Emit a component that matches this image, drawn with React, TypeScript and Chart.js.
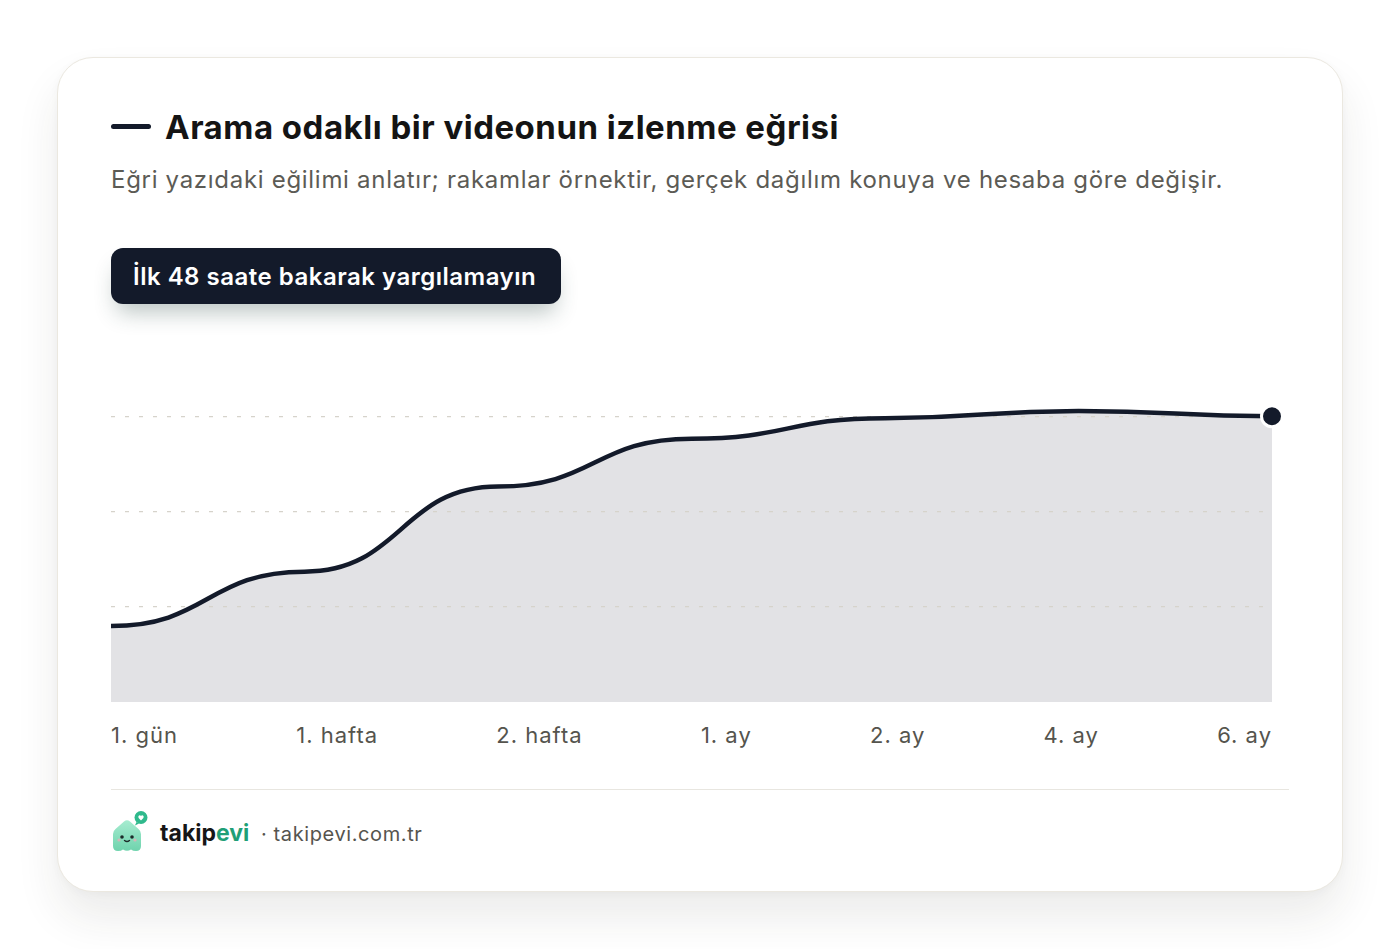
import React, { useEffect, useRef } from 'react';
import { Chart, registerables } from 'chart.js';

Chart.register(...registerables);

// ---- data ----
const categories = ['1. gün', '1. hafta', '2. hafta', '1. ay', '2. ay', '4. ay', '6. ay'];
const viewCurve = [20, 34.3, 56.7, 69.3, 74.7, 76.6, 75.2];
const gridValues = [25, 50, 75];
const yMin = 0;
const yMax = 100;

const titleText = 'Arama odaklı bir videonun izlenme eğrisi';
const subtitleText = 'Eğri yazıdaki eğilimi anlatır; rakamlar örnektir, gerçek dağılım konuya ve hesaba göre değişir.';
const badgeText = 'İlk 48 saate bakarak yargılamayın';

const NAVY = '#131a2a';
const FONT = 'Inter, "Noto Sans", sans-serif';

// Bezier with horizontal tangents at every point (bump curve)
function applyBump(chart: any) {
  chart.getSortedVisibleDatasetMetas().forEach((meta: any) => {
    const line = meta.dataset;
    if (!line || !line.updateControlPoints) return;
    line.updateControlPoints(chart.chartArea, meta.iScale ? meta.iScale.axis : 'x');
    const pts = meta.data;
    for (let i = 0; i < pts.length; i++) {
      const p = pts[i];
      const prev = pts[i - 1];
      const next = pts[i + 1];
      p.cp1x = prev ? (prev.x + p.x) / 2 : p.x;
      p.cp1y = p.y;
      p.cp2x = next ? (p.x + next.x) / 2 : p.x;
      p.cp2y = p.y;
    }
    line._path = undefined;
  });
}

const bumpPlugin = {
  id: 'bumpCurve',
  afterUpdate(chart: any) {
    applyBump(chart);
  },
};

function Logo() {
  return (
    <svg width="40" height="44" viewBox="0 0 40 44">
      <defs>
        <linearGradient id="lg" x1="0" y1="0" x2="0" y2="1">
          <stop offset="0" stopColor="#a6ecd0" />
          <stop offset="1" stopColor="#6fd3ad" />
        </linearGradient>
      </defs>
      <path
        d="M4 24 Q4 21 6.5 19 L15 11.5 Q18 9 21 11.5 L29.5 19 Q32 21 32 24 L32 36 Q32 41 27 41 Q24 41 22 39.5 Q18 42 14 39.5 Q12 41 9 41 Q4 41 4 36 Z"
        fill="url(#lg)"
      />
      <circle cx="13" cy="27" r="1.8" fill="#1d2b2a" />
      <circle cx="23" cy="27" r="1.8" fill="#1d2b2a" />
      <path d="M15.5 30.5 Q18 32.5 20.5 30.5" stroke="#1d2b2a" strokeWidth="1.4" fill="none" strokeLinecap="round" />
      <circle cx="10" cy="30" r="1.6" fill="#f3a6b8" opacity="0.7" />
      <circle cx="26" cy="30" r="1.6" fill="#f3a6b8" opacity="0.7" />
      <circle cx="32" cy="7.5" r="6.5" fill="#2fb98c" />
      <path d="M27.5 12 L26 15.5 L30 13.5 Z" fill="#2fb98c" />
      <path d="M32 10.5 L29.6 8 Q28.8 6.6 30 5.6 Q31.2 4.9 32 6 Q32.8 4.9 34 5.6 Q35.2 6.6 34.4 8 Z" fill="#ffffff" />
    </svg>
  );
}

export default function App() {
  const canvasRef = useRef<HTMLCanvasElement | null>(null);

  useEffect(() => {
    if (!canvasRef.current) return;
    const lastIndex = viewCurve.length - 1;
    const chart = new Chart(canvasRef.current, {
      type: 'line',
      data: {
        labels: categories,
        datasets: [
          {
            data: viewCurve,
            borderColor: NAVY,
            borderWidth: 4.5,
            backgroundColor: '#e2e2e5',
            fill: 'origin',
            tension: 0.4,
            clip: false as any,
            pointRadius: (ctx: any) => (ctx.dataIndex === lastIndex ? 10.5 : 0),
            pointHoverRadius: (ctx: any) => (ctx.dataIndex === lastIndex ? 10.5 : 0),
            pointBackgroundColor: NAVY,
            pointBorderColor: '#ffffff',
            pointBorderWidth: 3,
          },
        ],
      },
      options: {
        animation: false,
        responsive: true,
        maintainAspectRatio: false,
        layout: { autoPadding: false, padding: { top: 10, bottom: 10, left: 0, right: 17 } },
        plugins: {
          legend: { display: false },
          tooltip: { enabled: false },
          filler: { drawTime: 'beforeDraw' },
        },
        scales: {
          x: { display: false },
          y: {
            display: true,
            min: yMin,
            max: yMax,
            afterBuildTicks: (scale: any) => {
              scale.ticks = gridValues.map((v) => ({ value: v }));
            },
            ticks: { display: false },
            grid: { color: '#d6d3cb', lineWidth: 1.2, drawTicks: false },
            border: { display: false, dash: [4, 10] },
          },
        },
      },
      plugins: [bumpPlugin],
    } as any);
    return () => chart.destroy();
  }, []);

  const card: React.CSSProperties = {
    position: 'absolute',
    left: 57,
    top: 57,
    width: 1286,
    height: 835,
    boxSizing: 'border-box',
    border: '1px solid #ebe8e0',
    borderRadius: 36,
    background: '#ffffff',
    boxShadow: '0 26px 44px rgba(40,40,30,0.09), 0 2px 10px rgba(0,0,0,0.03)',
    fontFamily: FONT,
  };

  return (
    <div style={{ fontFamily: FONT }}>
      <div style={card}>
        {/* title dash */}
        <div style={{ position: 'absolute', left: 53, top: 66, width: 40, height: 5, borderRadius: 3, background: NAVY }} />
        <div
          style={{
            position: 'absolute',
            left: 107,
            top: 49,
            lineHeight: '40px',
            fontSize: 33,
            fontWeight: 700,
            color: '#141414',
            letterSpacing: 0.5,
            whiteSpace: 'nowrap',
          }}
        >
          {titleText}
        </div>
        <div
          style={{
            position: 'absolute',
            left: 53,
            top: 107,
            lineHeight: '30px',
            fontSize: 24,
            fontWeight: 400,
            color: '#5c5b55',
            letterSpacing: 0.7,
            whiteSpace: 'nowrap',
          }}
        >
          {subtitleText}
        </div>
        {/* badge */}
        <div
          style={{
            position: 'absolute',
            left: 53,
            top: 190,
            width: 450,
            height: 56,
            boxSizing: 'border-box',
            borderRadius: 12,
            background: NAVY,
            color: '#ffffff',
            fontSize: 24,
            fontWeight: 600,
            lineHeight: '57px',
            paddingLeft: 22,
            letterSpacing: 0.5,
            whiteSpace: 'nowrap',
            boxShadow: '0 14px 22px -6px rgba(40,70,65,0.32)',
          }}
        >
          {badgeText}
        </div>
        {/* chart */}
        <div style={{ position: 'absolute', left: 53, top: 254, width: 1178, height: 400 }}>
          <canvas ref={canvasRef} />
        </div>
        {/* x labels */}
        <div
          style={{
            position: 'absolute',
            left: 53,
            top: 662,
            width: 1161,
            height: 30,
            display: 'flex',
            justifyContent: 'space-between',
            lineHeight: '30px',
            fontSize: 22,
            letterSpacing: 1,
            color: '#55544d',
            whiteSpace: 'nowrap',
          }}
        >
          {categories.map((c) => (
            <span key={c}>{c}</span>
          ))}
        </div>
        {/* separator */}
        <div style={{ position: 'absolute', left: 53, top: 731, width: 1178, height: 1, background: '#e8e6e0' }} />
        {/* footer */}
        <div style={{ position: 'absolute', left: 51, top: 752 }}>
          <Logo />
        </div>
        <div
          style={{
            position: 'absolute',
            left: 102,
            top: 760,
            lineHeight: '30px',
            fontSize: 23,
            fontWeight: 700,
            color: '#161616',
            whiteSpace: 'nowrap',
          }}
        >
          takip<span style={{ color: '#1f9f77' }}>evi</span>
        </div>
        <div
          style={{
            position: 'absolute',
            left: 203,
            top: 761,
            lineHeight: '30px',
            fontSize: 20,
            letterSpacing: 0.6,
            color: '#55544e',
            whiteSpace: 'nowrap',
          }}
        >
          · takipevi.com.tr
        </div>
      </div>
    </div>
  );
}
